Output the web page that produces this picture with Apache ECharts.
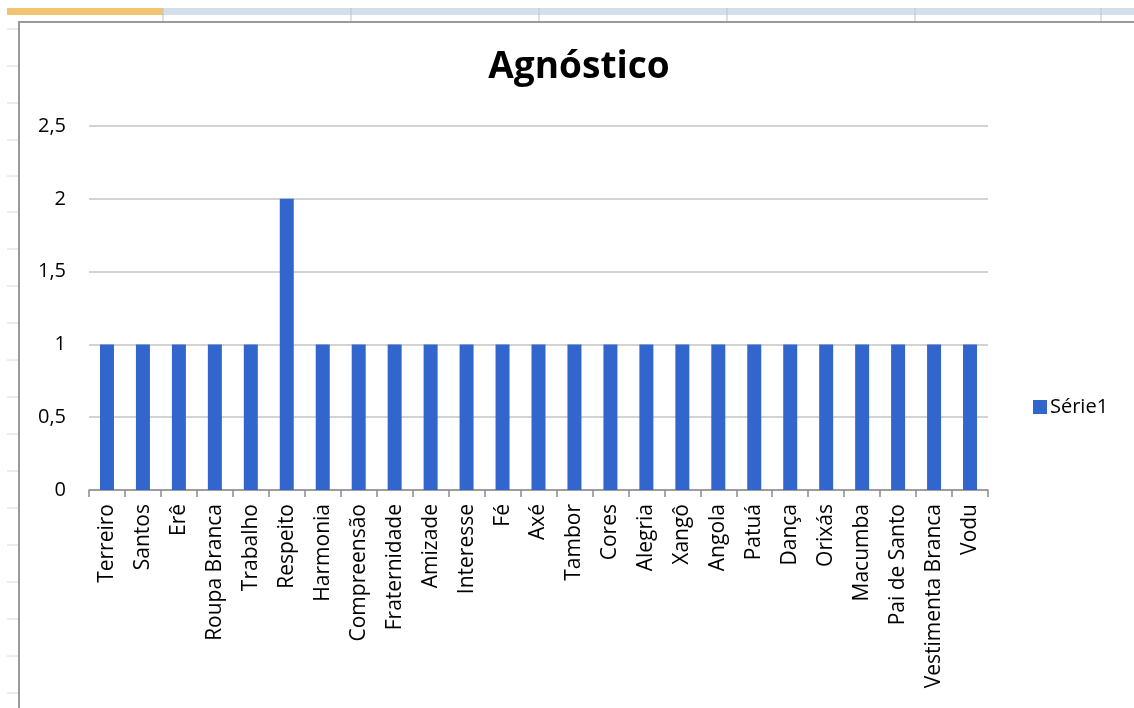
<!DOCTYPE html>
<html>
<head>
<meta charset="utf-8">
<script src="https://cdn.jsdelivr.net/npm/echarts@6/dist/echarts.min.js"></script>
<style>
  html, body { margin: 0; padding: 0; background: #fff; }
  #chart { width: 1134px; height: 708px; }
</style>
</head>
<body>
<div id="chart"></div>
<script>
const categories = ['Terreiro', 'Santos', 'Erê', 'Roupa Branca', 'Trabalho', 'Respeito', 'Harmonia',
  'Compreensão', 'Fraternidade', 'Amizade', 'Interesse', 'Fé', 'Axé', 'Tambor', 'Cores', 'Alegria',
  'Xangô', 'Angola', 'Patuá', 'Dança', 'Orixás', 'Macumba', 'Pai de Santo', 'Vestimenta Branca', 'Vodu']
const serie1 = [1, 1, 1, 1, 1, 2, 1, 1, 1, 1, 1, 1, 1, 1, 1, 1, 1, 1, 1, 1, 1, 1, 1, 1, 1]
const rulerYs = [29, 66, 103, 140, 176, 212, 249, 286, 323, 360, 397, 434, 471, 508, 545, 582, 619, 656, 693]
const columnEdges = [163, 351, 539, 727, 915, 1101]

const font = '"Open Sans", "Liberation Sans", sans-serif'

// moldura da planilha em volta do grafico
let decor = [
  { type: 'rect', shape: { x: 7, y: 8, width: 156, height: 7 }, style: { fill: '#f2c46f' }, silent: true },
  { type: 'rect', shape: { x: 163, y: 8, width: 971, height: 7 }, style: { fill: '#d5deeb' }, silent: true },
  { type: 'rect', shape: { x: 19, y: 22, width: 1140, height: 700 }, style: { fill: 'none', stroke: '#9a9a9a', lineWidth: 2 }, silent: true },
]
columnEdges.forEach(x => {
  decor.push({ type: 'line', shape: { x1: x, y1: 8, x2: x, y2: 21 }, style: { stroke: '#b5c3db', lineWidth: 1 }, silent: true })
})
rulerYs.forEach(y => {
  decor.push({ type: 'line', shape: { x1: 7, y1: y, x2: 18, y2: y }, style: { stroke: '#d0d8e6', lineWidth: 1 }, silent: true })
})

let myChart = echarts.init(document.getElementById('chart'))
myChart.setOption({
  animation: false,
  backgroundColor: '#fff',
  title: {
    text: 'Agnóstico',
    left: 574,
    textAlign: 'center',
    top: 44,
    textStyle: { fontFamily: font, fontSize: 37, fontWeight: 'bold', color: '#000' },
  },
  legend: {
    data: ['Série1'],
    left: 1028,
    top: 392,
    itemWidth: 14,
    itemHeight: 14,
    itemGap: 5,
    icon: 'rect',
    textStyle: { fontFamily: font, fontSize: 20, color: '#000', padding: [0, 0, 0, -2] },
  },
  grid: {
    left: 89,
    right: 146,
    top: 126,
    bottom: 218,
  },
  xAxis: {
    type: 'category',
    data: categories,
    axisLine: { show: true, lineStyle: { color: '#8c8c8c', width: 1.5 } },
    axisTick: { show: true, length: 7, lineStyle: { color: '#8c8c8c', width: 1.5 } },
    axisLabel: {
      rotate: 90,
      interval: 0,
      margin: 14,
      fontFamily: font,
      fontSize: 21,
      color: '#000',
    },
  },
  yAxis: {
    type: 'value',
    min: 0,
    max: 2.5,
    interval: 0.5,
    axisLine: { show: false },
    axisTick: { show: false },
    axisLabel: {
      margin: 23,
      fontFamily: font,
      fontSize: 20,
      color: '#000',
      formatter: v => String(v).replace('.', ','),
    },
    splitLine: { lineStyle: { color: '#c4c4c4', width: 1.5 } },
  },
  series: [
    {
      name: 'Série1',
      type: 'bar',
      data: serie1,
      barWidth: 14,
      itemStyle: { color: '#3366cc' },
    },
  ],
  graphic: decor,
})
</script>
</body>
</html>
